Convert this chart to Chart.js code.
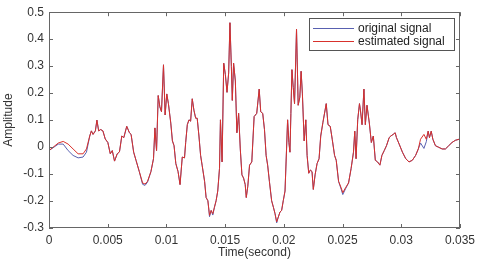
<!DOCTYPE html>
<html>
<head>
<meta charset="utf-8">
<script src="https://cdn.jsdelivr.net/npm/chart.js@4"></script>
<style>
  html, body { margin: 0; padding: 0; background: #fff; }
  #wrap { width: 480px; height: 261px; }
</style>
</head>
<body>
<div id="wrap"><canvas id="sig" width="480" height="261"></canvas></div>
<script>
// time axis (seconds)
const time = [
  0, 0.00079, 0.00121, 0.00163, 0.00205, 0.00248, 0.00290, 0.00319, 0.00347, 0.00361,
  0.00375, 0.00395, 0.00408, 0.00423, 0.00440, 0.00459, 0.00479, 0.00501, 0.00522, 0.00539,
  0.00558, 0.00581, 0.00600, 0.00620, 0.00637, 0.00662, 0.00685, 0.00699, 0.00721, 0.00741,
  0.00769, 0.00797, 0.00818, 0.00839, 0.00868, 0.00890, 0.00902, 0.00916, 0.00930, 0.00944,
  0.00958, 0.00975, 0.00989, 0.01003, 0.01017, 0.01037, 0.01051, 0.01065, 0.01080, 0.01099,
  0.01116, 0.01135, 0.01154, 0.01164, 0.01178, 0.01192, 0.01206, 0.01220, 0.01234, 0.01249,
  0.01262, 0.01277, 0.01291, 0.01304, 0.01325, 0.01338, 0.01353, 0.01367, 0.01381, 0.01395,
  0.01409, 0.01423, 0.01437, 0.01452, 0.01460, 0.01474, 0.01488, 0.01502, 0.01516, 0.01530,
  0.01541, 0.01553, 0.01561, 0.01572, 0.01587, 0.01600, 0.01615, 0.01629, 0.01643, 0.01657,
  0.01671, 0.01680, 0.01693, 0.01708, 0.01727, 0.01747, 0.01769, 0.01790, 0.01803, 0.01820,
  0.01835, 0.01849, 0.01862, 0.01877, 0.01896, 0.01911, 0.01925, 0.01939, 0.01953, 0.01967,
  0.01981, 0.01995, 0.02010, 0.02023, 0.02032, 0.02043, 0.02052, 0.02060, 0.02069, 0.02080,
  0.02091, 0.02108, 0.02122, 0.02136, 0.02147, 0.02158, 0.02173, 0.02187, 0.02198, 0.02212,
  0.02226, 0.02240, 0.02251, 0.02266, 0.02283, 0.02300, 0.02314, 0.02333, 0.02361, 0.02376,
  0.02395, 0.02412, 0.02432, 0.02446, 0.02466, 0.02488, 0.02502, 0.02525, 0.02551, 0.02573,
  0.02593, 0.02604, 0.02615, 0.02629, 0.02644, 0.02652, 0.02666, 0.02682, 0.02694, 0.02708,
  0.02728, 0.02745, 0.02762, 0.02779, 0.02798, 0.02818, 0.02835, 0.02855, 0.02874, 0.02897,
  0.02911, 0.02931, 0.02948, 0.02959, 0.02982, 0.03010, 0.03038, 0.03066, 0.03094, 0.03122,
  0.03145, 0.03164, 0.03193, 0.03213, 0.03229, 0.03240, 0.03255, 0.03269, 0.03291, 0.03320,
  0.03348, 0.03376, 0.03404, 0.03432, 0.03460, 0.03500
];

const estimated = [
  -0.013, 0.015, 0.021, 0.011, -0.007, -0.025, -0.025, -0.007, 0.041, 0.060,
  0.047, 0.060, 0.100, 0.060, 0.065, 0.060, 0.030, 0.017, -0.025, -0.013,
  -0.052, -0.025, -0.018, 0.041, 0.035, 0.077, 0.053, 0.047, -0.019, -0.049,
  -0.091, -0.133, -0.137, -0.127, -0.091, -0.043, 0.071, -0.013, 0.191, 0.149,
  0.131, 0.305, 0.119, 0.197, 0.161, 0.089, 0.023, 0.005, -0.061, -0.091,
  -0.139, -0.037, -0.040, 0.017, 0.083, 0.101, 0.096, 0.179, 0.137, 0.107,
  0.107, 0.041, -0.031, -0.067, -0.127, -0.187, -0.199, -0.253, -0.235, -0.247,
  -0.223, -0.199, -0.163, -0.079, 0.101, -0.055, 0.311, 0.269, 0.203, 0.275,
  0.461, 0.299, 0.173, 0.311, 0.245, 0.053, 0.125, -0.007, -0.103, -0.115,
  -0.139, -0.187, -0.145, -0.067, -0.055, 0.113, 0.125, 0.215, 0.131, 0.125,
  0.065, -0.031, -0.067, -0.127, -0.199, -0.223, -0.247, -0.277, -0.259, -0.241,
  -0.235, -0.199, -0.163, -0.007, 0.101, 0.017, -0.019, 0.125, 0.287, 0.221,
  0.161, 0.437, 0.155, 0.185, 0.281, 0.197, 0.023, 0.101, -0.031, -0.097,
  -0.085, -0.091, -0.157, -0.103, -0.061, -0.043, 0.041, 0.092, 0.161, 0.083,
  0.077, 0.029, -0.031, -0.049, -0.127, -0.151, -0.169, -0.151, -0.133, -0.079,
  -0.019, 0.059, -0.043, 0.101, 0.161, 0.137, 0.083, 0.215, 0.083, 0.155,
  0.089, 0.017, 0.041, -0.049, -0.055, -0.067, -0.031, -0.013, 0.005, 0.035,
  0.041, 0.047, 0.053, 0.035, 0.011, -0.019, -0.043, -0.055, -0.049, -0.031,
  -0.007, 0.029, 0.047, 0.029, 0.059, 0.035, 0.059, 0.029, 0.005, -0.001,
  -0.007, -0.007, 0.005, 0.017, 0.025, 0.030
];

const original = [
  -0.013, 0.011, 0.011, -0.013, -0.031, -0.040, -0.037, -0.019, 0.041, 0.060,
  0.047, 0.060, 0.100, 0.060, 0.065, 0.060, 0.030, 0.017, -0.025, -0.013,
  -0.052, -0.025, -0.018, 0.041, 0.035, 0.077, 0.053, 0.047, -0.019, -0.049,
  -0.091, -0.138, -0.142, -0.130, -0.091, -0.043, 0.071, -0.013, 0.191, 0.149,
  0.131, 0.305, 0.119, 0.197, 0.161, 0.089, 0.023, 0.005, -0.061, -0.091,
  -0.139, -0.037, -0.040, 0.017, 0.083, 0.101, 0.096, 0.179, 0.137, 0.107,
  0.107, 0.041, -0.031, -0.067, -0.127, -0.187, -0.199, -0.258, -0.235, -0.252,
  -0.223, -0.199, -0.163, -0.079, 0.101, -0.055, 0.311, 0.269, 0.203, 0.275,
  0.461, 0.299, 0.173, 0.311, 0.245, 0.053, 0.125, -0.007, -0.103, -0.115,
  -0.139, -0.187, -0.145, -0.067, -0.055, 0.113, 0.125, 0.215, 0.131, 0.125,
  0.065, -0.031, -0.067, -0.127, -0.199, -0.223, -0.247, -0.281, -0.259, -0.241,
  -0.235, -0.199, -0.163, -0.007, 0.101, 0.017, -0.019, 0.125, 0.287, 0.221,
  0.161, 0.437, 0.155, 0.185, 0.281, 0.197, 0.023, 0.101, -0.031, -0.097,
  -0.085, -0.091, -0.157, -0.103, -0.061, -0.043, 0.041, 0.092, 0.161, 0.083,
  0.077, 0.029, -0.031, -0.049, -0.127, -0.156, -0.176, -0.155, -0.133, -0.079,
  -0.019, 0.059, -0.043, 0.101, 0.161, 0.137, 0.083, 0.215, 0.083, 0.155,
  0.089, 0.017, 0.041, -0.049, -0.055, -0.067, -0.031, -0.013, 0.005, 0.035,
  0.041, 0.047, 0.053, 0.035, 0.011, -0.019, -0.043, -0.055, -0.049, -0.031,
  -0.007, 0.015, -0.005, 0.020, 0.059, 0.035, 0.059, 0.029, 0.005, -0.001,
  -0.007, -0.007, 0.005, 0.017, 0.025, 0.030
];

const xTicks = [0, 0.005, 0.01, 0.015, 0.02, 0.025, 0.03, 0.035];
const yTicks = [-0.3, -0.2, -0.1, 0, 0.1, 0.2, 0.3, 0.4, 0.5];

const FONT = "'Liberation Sans', Arial, Helvetica, sans-serif";
const AXIS = '#666';

// matlab style box, inward ticks and the legend inside the plot
const framePlugin = {
  id: 'frame',
  afterDraw(chart) {
    const { ctx, chartArea: a, scales } = chart;
    ctx.save();
    ctx.strokeStyle = AXIS;
    ctx.lineWidth = 1;
    ctx.strokeRect(Math.round(a.left) + 0.5, Math.round(a.top) + 0.5,
      Math.round(a.right - a.left) - 1, Math.round(a.bottom - a.top) - 1);

    const tl = 4;
    ctx.beginPath();
    xTicks.forEach(v => {
      const px = Math.round(scales.x.getPixelForValue(v)) + 0.5;
      ctx.moveTo(px, a.bottom); ctx.lineTo(px, a.bottom - tl);
      ctx.moveTo(px, a.top); ctx.lineTo(px, a.top + tl);
    });
    yTicks.forEach(v => {
      const py = Math.round(scales.y.getPixelForValue(v)) + 0.5;
      ctx.moveTo(a.left, py); ctx.lineTo(a.left + tl, py);
      ctx.moveTo(a.right, py); ctx.lineTo(a.right - tl, py);
    });
    ctx.stroke();

    // legend
    const bx = Math.round(a.right) - 151, by = Math.round(a.top) + 6, bw = 145, bh = 32;
    ctx.fillStyle = '#fff';
    ctx.fillRect(bx, by, bw, bh);
    ctx.strokeStyle = '#555';
    ctx.strokeRect(bx + 0.5, by + 0.5, bw, bh);
    ctx.font = '12px ' + FONT;
    ctx.textBaseline = 'middle';
    ctx.textAlign = 'left';
    chart.data.datasets.forEach((ds, i) => {
      const ly = by + 10 + i * 13;
      ctx.strokeStyle = ds.borderColor;
      ctx.beginPath();
      ctx.moveTo(bx + 4, ly + 0.5);
      ctx.lineTo(bx + 45, ly + 0.5);
      ctx.stroke();
      ctx.fillStyle = '#222';
      ctx.fillText(ds.label, bx + 49, ly + 1);
    });
    ctx.restore();
  }
};

const toPoints = vals => vals.map((v, i) => ({ x: time[i], y: v }));

new Chart(document.getElementById('sig'), {
  type: 'line',
  data: {
    datasets: [
      { label: 'original signal', data: toPoints(original), borderColor: '#5860b0', borderWidth: 1, pointRadius: 0, tension: 0, order: 1 },
      { label: 'estimated signal', data: toPoints(estimated), borderColor: '#d8312c', borderWidth: 1, pointRadius: 0, tension: 0, order: 0 }
    ]
  },
  options: {
    responsive: false,
    animation: false,
    devicePixelRatio: 1,
    layout: { padding: { left: 0, top: 6, right: 17, bottom: 0 } },
    plugins: { legend: { display: false }, tooltip: { enabled: false } },
    scales: {
      x: {
        type: 'linear',
        min: 0, max: 0.035,
        afterFit: s => { s.height = 33; },
        afterBuildTicks: s => { s.ticks = xTicks.map(v => ({ value: v })); },
        grid: { display: false, drawTicks: false },
        border: { display: false },
        ticks: {
          padding: 5,
          color: '#333',
          font: { family: FONT, size: 12 },
          maxRotation: 0,
          callback: v => String(Number(v.toFixed(3)))
        },
        title: { display: true, text: 'Time(second)', color: '#333', font: { family: FONT, size: 12 }, padding: { top: 0, bottom: 1 } }
      },
      y: {
        min: -0.3, max: 0.5,
        afterFit: s => { s.width = 49; },
        afterBuildTicks: s => { s.ticks = yTicks.map(v => ({ value: v })); },
        grid: { display: false, drawTicks: false },
        border: { display: false },
        ticks: {
          padding: 5,
          color: '#333',
          font: { family: FONT, size: 12 },
          callback: v => String(Math.round(v * 10) / 10)
        },
        title: { display: true, text: 'Amplitude', color: '#333', font: { family: FONT, size: 12 }, padding: { top: 1, bottom: 0 } }
      }
    }
  },
  plugins: [framePlugin]
});
</script>
</body>
</html>
